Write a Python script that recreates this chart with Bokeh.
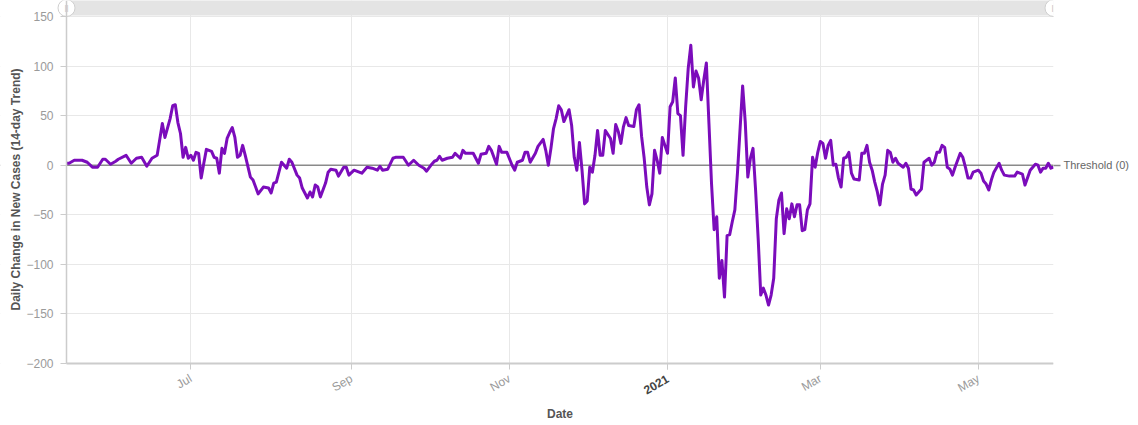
import math
import pandas as pd
from bokeh.plotting import figure
from bokeh.models import (ColumnDataSource, Span, FixedTicker, Range1d, LinearAxis,
                          DatetimeAxis, Label)
from bokeh.embed import file_html
from bokeh.resources import INLINE

# ---------------- data ----------------
dates = [
    "2020-05-14", "2020-05-15", "2020-05-17", "2020-05-20", "2020-05-22", "2020-05-24",
    "2020-05-26", "2020-05-28", "2020-05-29", "2020-05-31", "2020-06-02", "2020-06-03",
    "2020-06-06", "2020-06-08", "2020-06-10", "2020-06-12", "2020-06-14", "2020-06-16",
    "2020-06-18", "2020-06-19", "2020-06-20", "2020-06-21", "2020-06-23", "2020-06-24",
    "2020-06-25", "2020-06-26", "2020-06-27", "2020-06-28", "2020-06-29", "2020-06-30",
    "2020-07-01", "2020-07-02", "2020-07-03", "2020-07-04", "2020-07-05", "2020-07-06",
    "2020-07-07", "2020-07-09", "2020-07-10", "2020-07-11", "2020-07-12", "2020-07-13",
    "2020-07-14", "2020-07-15", "2020-07-16", "2020-07-17", "2020-07-18", "2020-07-19",
    "2020-07-20", "2020-07-21", "2020-07-22", "2020-07-24", "2020-07-25", "2020-07-27",
    "2020-07-29", "2020-07-31", "2020-08-01", "2020-08-02", "2020-08-03", "2020-08-05",
    "2020-08-07", "2020-08-08", "2020-08-09", "2020-08-11", "2020-08-12", "2020-08-13",
    "2020-08-15", "2020-08-16", "2020-08-17", "2020-08-18", "2020-08-19", "2020-08-20",
    "2020-08-22", "2020-08-23", "2020-08-24", "2020-08-26", "2020-08-27", "2020-08-29",
    "2020-08-30", "2020-08-31", "2020-09-02", "2020-09-03", "2020-09-05", "2020-09-07",
    "2020-09-09", "2020-09-11", "2020-09-12", "2020-09-13", "2020-09-15", "2020-09-17",
    "2020-09-18", "2020-09-21", "2020-09-23", "2020-09-25", "2020-09-27", "2020-09-29",
    "2020-09-30", "2020-10-02", "2020-10-03", "2020-10-04", "2020-10-05", "2020-10-06",
    "2020-10-08", "2020-10-10", "2020-10-11", "2020-10-13", "2020-10-14", "2020-10-15",
    "2020-10-18", "2020-10-20", "2020-10-21", "2020-10-23", "2020-10-24", "2020-10-25",
    "2020-10-27", "2020-10-28", "2020-10-29", "2020-10-31", "2020-11-02", "2020-11-03",
    "2020-11-04", "2020-11-06", "2020-11-07", "2020-11-08", "2020-11-09", "2020-11-11",
    "2020-11-12", "2020-11-14", "2020-11-15", "2020-11-16", "2020-11-17", "2020-11-18",
    "2020-11-19", "2020-11-20", "2020-11-21", "2020-11-22", "2020-11-24", "2020-11-25",
    "2020-11-26", "2020-11-27", "2020-11-28", "2020-11-29", "2020-11-30", "2020-12-01",
    "2020-12-02", "2020-12-03", "2020-12-04", "2020-12-05", "2020-12-06", "2020-12-07",
    "2020-12-08", "2020-12-10", "2020-12-11", "2020-12-12", "2020-12-13", "2020-12-14",
    "2020-12-15", "2020-12-16", "2020-12-17", "2020-12-19", "2020-12-20", "2020-12-21",
    "2020-12-22", "2020-12-23", "2020-12-24", "2020-12-25", "2020-12-26", "2020-12-27",
    "2020-12-28", "2020-12-29", "2020-12-30", "2020-12-31", "2021-01-01", "2021-01-02",
    "2021-01-03", "2021-01-04", "2021-01-05", "2021-01-06", "2021-01-07", "2021-01-08",
    "2021-01-09", "2021-01-10", "2021-01-11", "2021-01-12", "2021-01-13", "2021-01-14",
    "2021-01-15", "2021-01-16", "2021-01-17", "2021-01-18", "2021-01-19", "2021-01-20",
    "2021-01-21", "2021-01-22", "2021-01-23", "2021-01-24", "2021-01-25", "2021-01-26",
    "2021-01-27", "2021-01-28", "2021-01-30", "2021-01-31", "2021-02-01", "2021-02-02",
    "2021-02-03", "2021-02-04", "2021-02-05", "2021-02-06", "2021-02-07", "2021-02-08",
    "2021-02-09", "2021-02-10", "2021-02-11", "2021-02-12", "2021-02-13", "2021-02-14",
    "2021-02-15", "2021-02-16", "2021-02-17", "2021-02-18", "2021-02-19", "2021-02-20",
    "2021-02-21", "2021-02-22", "2021-02-23", "2021-02-24", "2021-02-25", "2021-02-26",
    "2021-02-27", "2021-02-28", "2021-03-01", "2021-03-02", "2021-03-03", "2021-03-04",
    "2021-03-05", "2021-03-06", "2021-03-07", "2021-03-08", "2021-03-09", "2021-03-10",
    "2021-03-11", "2021-03-12", "2021-03-13", "2021-03-14", "2021-03-16", "2021-03-17",
    "2021-03-18", "2021-03-19", "2021-03-20", "2021-03-21", "2021-03-22", "2021-03-23",
    "2021-03-24", "2021-03-25", "2021-03-26", "2021-03-27", "2021-03-28", "2021-03-29",
    "2021-03-30", "2021-03-31", "2021-04-02", "2021-04-03", "2021-04-04", "2021-04-05",
    "2021-04-06", "2021-04-07", "2021-04-09", "2021-04-10", "2021-04-12", "2021-04-13",
    "2021-04-14", "2021-04-15", "2021-04-16", "2021-04-17", "2021-04-18", "2021-04-19",
    "2021-04-20", "2021-04-21", "2021-04-22", "2021-04-24", "2021-04-25", "2021-04-26",
    "2021-04-27", "2021-04-28", "2021-04-29", "2021-05-01", "2021-05-02", "2021-05-03",
    "2021-05-04", "2021-05-05", "2021-05-06", "2021-05-07", "2021-05-09", "2021-05-10",
    "2021-05-11", "2021-05-13", "2021-05-15", "2021-05-16", "2021-05-18", "2021-05-19",
    "2021-05-21", "2021-05-22", "2021-05-23", "2021-05-24", "2021-05-25", "2021-05-26",
    "2021-05-27", "2021-05-28", "2021-05-29", "2021-05-30",
]

values = [
    2, 2, 5, 5, 3, -2,
    -2, 6, 6, 1, 4, 6,
    10, 2, 7, 8, -1, 7,
    10, 26, 42, 28, 47, 60,
    61, 43, 32, 8, 18, 7,
    10, 5, 13, 12, -13, 2,
    16, 14, 8, 7, -8, 17,
    12, 27, 33, 38, 28, 8,
    10, 20, 10, -12, -15, -29,
    -22, -23, -28, -18, -17, 3,
    -3, 6, 3, -10, -13, -23,
    -33, -27, -32, -20, -22, -32,
    -18, -7, -4, -5, -11, -2,
    -2, -10, -5, -6, -8, -2,
    -3, -5, -1, -5, -4, 7,
    8, 8, 0, 5, 0, -3,
    -6, 1, 4, 5, 9, 5,
    7, 8, 12, 7, 15, 12,
    12, 2, 11, 12, 19, 15,
    1, 19, 13, 13, 0, -5,
    3, 5, 13, 13, 3, 12,
    19, 26, 15, 0, 17, 37,
    47, 60, 56, 44, 56, 40,
    8, -5, 23, -5, -39, -36,
    -2, -7, 10, 35, 10, 10,
    35, 27, 12, 41, 34, 22,
    39, 48, 40, 39, 56, 61,
    29, 7, -22, -40, -29, 15,
    5, -8, 28, 20, 12, 59,
    64, 88, 52, 50, 10, 59,
    98, 121, 79, 95, 88, 66,
    86, 103, 42, -19, -65, -52,
    -114, -96, -133, -71, -70, -57,
    -45, -8, 80, 44, -12, 7,
    17, -25, -74, -131, -124, -131,
    -141, -131, -114, -54, -35, -28,
    -69, -44, -54, -39, -52, -40,
    -40, -66, -65, -45, -39, 8,
    -2, 13, 24, 22, 7, 20,
    25, 0, 1, -13, -22, 7,
    8, 13, -8, -14, -15, 12,
    12, 20, 3, -5, -17, -27,
    -40, -19, -10, 15, 13, 3,
    7, 2, -2, 2, -3, -24,
    -25, -30, -24, 3, 7, 0,
    3, 13, 13, 20, 18, -2,
    -4, -10, -2, 12, 8, -2,
    -13, -13, -7, -5, -8, -16,
    -19, -25, -15, -7, 2, -5,
    -10, -11, -11, -7, -9, -20,
    -5, -2, 1, 0, -7, -3,
    -3, 2, -3, -2,
]

tick_dates = ["2020-07-01", "2020-09-01", "2020-11-01", "2021-01-01", "2021-03-01", "2021-05-01"]
tick_labels = ["Jul", "Sep", "Nov", "2021", "Mar", "May"]
bold_tick_label = "2021"
y_ticks = [-200, -150, -100, -50, 0, 50, 100, 150]
threshold_value = 0
threshold_text = "Threshold (0)"
x_title = "Date"
y_title = "Daily Change in New Cases (14-day Trend)"

# ---------------- layout constants ----------------
x = pd.to_datetime(dates)
src = ColumnDataSource(dict(x=x, y=values))

FONT = "Liberation Sans"
LINE = "#7b0cbb"
Y_MIN, Y_TOP = -200, 166.14
PX_PER_UNIT = 347.0 / 350.0            # vertical pixels per value unit
DATA_PX = 987.0                        # horizontal pixels used by the data span
PX_PER_DAY = DATA_PX / ((x[-1] - x[0]).days)
LEFT_PX = 66                           # room for y-axis, inside the frame
Y_BOTTOM = Y_MIN - 62 / PX_PER_UNIT    # frame runs down to the canvas bottom
X_START = x[0] - pd.Timedelta(days=LEFT_PX / PX_PER_DAY)

def ms(t):
    return pd.Timestamp(t).value / 1e6

p = figure(width=1138, height=425, x_axis_type="datetime",
           output_backend="svg", toolbar_location=None,
           x_range=Range1d(start=X_START, end=x[-1]),
           y_range=Range1d(start=Y_BOTTOM, end=Y_TOP),
           min_border_left=0, min_border_right=85,
           min_border_top=0, min_border_bottom=0)
p.outline_line_color = None
p.background_fill_color = "white"
p.border_fill_color = "white"

tick_ms = [ms(d) for d in tick_dates]
xt = FixedTicker(ticks=tick_ms)

# main date axis, pinned to the -200 line (inside the frame)
xa = p.xaxis[0]
xa.fixed_location = Y_MIN
xa.bounds = (ms(x[0]), ms(x[-1]))
xa.ticker = xt
overrides = {}
for t, lab in zip(tick_ms, tick_labels):
    overrides[t] = "" if lab == bold_tick_label else lab
xa.major_label_overrides = overrides
xa.major_label_orientation = math.pi / 6
xa.major_label_text_color = "#9a9a9a"
xa.major_label_text_font = FONT
xa.major_label_text_font_size = "12px"
xa.major_label_standoff = 8
xa.axis_line_color = "#cccccc"
xa.axis_line_width = 2
xa.major_tick_line_color = "#cccccc"
xa.major_tick_out = 6
xa.major_tick_in = 0
xa.minor_tick_line_color = None

# second date axis at the same place, only for the bold year label
i = tick_labels.index(bold_tick_label)
year_axis = DatetimeAxis(ticker=FixedTicker(ticks=[tick_ms[i]]),
                         major_label_overrides={tick_ms[i]: bold_tick_label},
                         fixed_location=Y_MIN,
                         major_label_orientation=math.pi / 6,
                         major_label_text_color="#444444",
                         major_label_text_font=FONT,
                         major_label_text_font_size="12px",
                         major_label_text_font_style="bold",
                         major_label_standoff=8,
                         axis_line_color=None,
                         major_tick_line_color="#cccccc",
                         major_tick_out=6, major_tick_in=0,
                         minor_tick_line_color=None)
p.add_layout(year_axis, "below")

p.xgrid.ticker = xt
p.xgrid.grid_line_color = "#e8e8e8"

# value axis, pinned to the first date (inside the frame)
yt = FixedTicker(ticks=y_ticks)
ya = p.yaxis[0]
ya.fixed_location = ms(x[0])
ya.bounds = (Y_MIN, Y_TOP)
ya.ticker = yt
ya.major_label_text_color = "#9a9a9a"
ya.major_label_text_font = FONT
ya.major_label_text_font_size = "12px"
ya.major_label_standoff = 7
ya.axis_line_color = "#cccccc"
ya.axis_line_width = 1.5
ya.major_tick_line_color = "#cccccc"
ya.major_tick_out = 6
ya.major_tick_in = 0
ya.minor_tick_line_color = None
p.ygrid.ticker = yt
p.ygrid.grid_line_color = "#e8e8e8"

# white strips outside the data area (keep grid lines inside it)
p.quad(left=[x[0]], right=[x[-1]], bottom=[Y_BOTTOM], top=[Y_MIN],
       fill_color="white", line_color=None)
p.quad(left=[X_START], right=[x[0]], bottom=[Y_BOTTOM], top=[Y_TOP],
       fill_color="white", line_color=None)

# threshold line + its label on a right-hand axis
span = Span(location=threshold_value, dimension="width", line_color="#8a8a8a",
            line_width=1.5, level="underlay")
p.add_layout(span)
p.segment(x0=[X_START], x1=[x[0]], y0=[threshold_value], y1=[threshold_value],
          line_color="white", line_width=3)
raxis = LinearAxis(ticker=FixedTicker(ticks=[threshold_value]),
                   major_label_overrides={threshold_value: threshold_text},
                   axis_line_color=None, major_tick_line_color="#8a8a8a",
                   major_tick_line_width=1.5, major_tick_out=7, major_tick_in=0,
                   minor_tick_line_color=None, major_label_standoff=3,
                   major_label_text_font=FONT, major_label_text_font_size="11px",
                   major_label_text_color="#666666")
p.add_layout(raxis, "right")

# range-slider strip at the top
p.quad(left=[x[0]], right=[x[-1]], bottom=[151], top=[170],
       fill_color="#e4e4e4", line_color=None)
p.scatter(x=[x[0], x[-1]], y=[158.6, 158.6], size=17, marker="circle",
          fill_color="white", line_color="#cfcfcf", line_width=1)
p.text(x=[x[0], x[-1]], y=[158.6, 158.6], text=["||", "||"], text_align="center",
       text_baseline="middle", text_font_size="8px", text_color="#bbbbbb")

# data line
p.line("x", "y", source=src, line_color=LINE, line_width=3, line_join="round")

# axis titles, inside the frame
x_mid = x[0] + (x[-1] - x[0]) / 2
p.add_layout(Label(x=x_mid, y=Y_MIN - 50 / PX_PER_UNIT, text=x_title,
                   text_align="center", text_baseline="middle", text_font=FONT,
                   text_font_size="12px", text_font_style="bold",
                   text_color="#555555"))
y_mid = Y_TOP - 189 / PX_PER_UNIT
p.add_layout(Label(x=X_START + pd.Timedelta(days=15 / PX_PER_DAY), y=y_mid,
                   text=y_title, angle=math.pi / 2, text_align="center",
                   text_baseline="middle", text_font=FONT, text_font_size="12px",
                   text_font_style="bold", text_color="#555555"))

open("out.html", "w").write(file_html(p, INLINE))
